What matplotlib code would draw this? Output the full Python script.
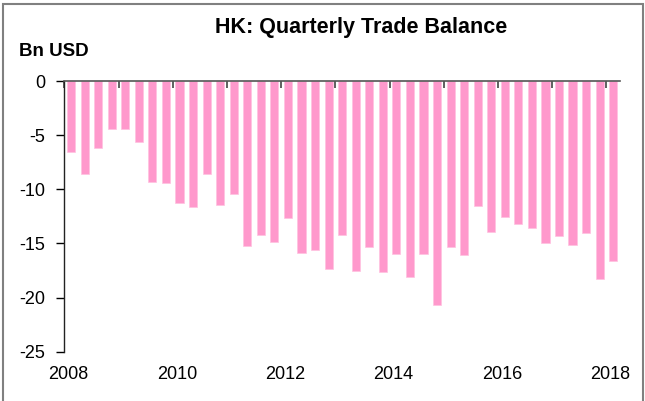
import matplotlib
matplotlib.use("Agg")
import matplotlib.pyplot as plt
from matplotlib.patches import Rectangle
import numpy as np

plt.rcParams['font.family'] = ['Liberation Sans', 'DejaVu Sans']

# quarterly trade balance, 2008Q1 .. 2018Q1 (Bn USD)
balance = [-6.6, -8.6, -6.2, -4.4, -4.4, -5.6, -9.35, -9.45, -11.3, -11.65,
           -8.6, -11.47, -10.4, -15.2, -14.2, -14.9, -12.67, -15.84, -15.6, -17.35,
           -14.23, -17.56, -15.29, -17.65, -15.96, -18.11, -15.99, -20.73, -15.34, -16.1,
           -11.56, -13.96, -12.55, -13.22, -13.53, -15.0, -14.27, -15.16, -14.02, -18.33,
           -16.6]
year_labels = ['2008', '2010', '2012', '2014', '2016', '2018']
y_ticks = [0, -5, -10, -15, -20, -25]

x = np.arange(len(balance))

fig = plt.figure(figsize=(6.45, 4.01), dpi=100)
ax = fig.add_axes([64.3 / 645, 1 - 351.7 / 401, (620 - 64.3) / 645, (351.7 - 81) / 401])

ax.bar(x, balance, width=0.6, color='#FF99CC', edgecolor='#FFC2E0', linewidth=0.5, zorder=2)

ax.set_xlim(-0.5, len(balance) - 0.5)
ax.set_ylim(-25, 0)
ax.set_yticks(y_ticks)
ax.set_yticklabels([str(v) for v in y_ticks], fontsize=13)

# major ticks mark year boundaries on the zero line, labels sit under every 2nd year
ax.set_xticks(np.arange(-0.5, len(balance), 4))
ax.set_xticks(np.arange(0, len(balance), 8) - 0.2, minor=True)
ax.set_xticklabels(year_labels, minor=True, fontsize=13)
ax.tick_params(axis='x', which='major', bottom=False, top=True, direction='in',
               length=5, width=1.2, color='#444444', labelbottom=False, labeltop=False)
ax.tick_params(axis='x', which='minor', bottom=False, top=False, length=0, pad=10)
ax.tick_params(axis='y', direction='out', length=6, width=1, pad=7.5)

for s in ['right', 'bottom']:
    ax.spines[s].set_visible(False)
ax.spines['top'].set_color('#555555')
ax.spines['top'].set_linewidth(1.2)
ax.spines['left'].set_color('#222222')
ax.spines['left'].set_linewidth(1)

fig.text(361 / 645, 1 - 27 / 401, 'HK: Quarterly Trade Balance', ha='center', va='center',
         fontsize=15.5, fontweight='bold')
fig.text(19 / 645, 1 - 52 / 401, 'Bn USD', ha='left', va='center', fontsize=13.5, fontweight='bold')

fig.patches.append(Rectangle((3 / 645, -0.05), 640 / 645, 1.05 - 3.5 / 401, transform=fig.transFigure,
                             fill=False, edgecolor='#808080', linewidth=1.5))

fig.savefig('out.png', dpi=100)
